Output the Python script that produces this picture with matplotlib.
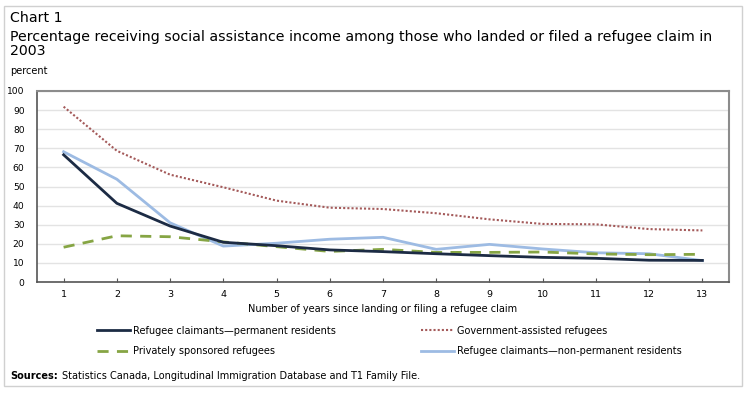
import matplotlib
matplotlib.use("Agg")
import matplotlib.pyplot as plt
from matplotlib.patches import Rectangle

years = list(range(1, 14))
claimants_pr = [66.6, 41.2, 29.3, 20.8, 19.0, 16.8, 15.9, 14.8, 13.8, 12.9, 12.4, 11.4, 11.3]
gov_assisted = [91.8, 68.7, 56.2, 49.6, 42.6, 38.9, 38.2, 36.0, 32.8, 30.4, 30.2, 27.7, 27.0]
private_sponsored = [18.2, 24.2, 23.7, 21.0, 18.5, 16.0, 17.1, 15.5, 15.5, 15.7, 14.7, 14.3, 14.5]
claimants_npr = [68.2, 53.8, 31.0, 18.8, 20.3, 22.4, 23.4, 17.1, 19.7, 17.3, 15.3, 14.8, 11.2]

series_labels = ["Refugee claimants\u2014permanent residents",
                 "Government-assisted refugees",
                 "Privately sponsored refugees",
                 "Refugee claimants\u2014non-permanent residents"]

plt.rcParams['font.family'] = ['DejaVu Sans']

W, H = 749, 397
fig = plt.figure(figsize=(W / 100, H / 100), dpi=100)

# outer frame
fig.patches.append(Rectangle((4 / W, 1 - 386 / H), 738 / W, 380 / H, transform=fig.transFigure,
                             fill=False, edgecolor='#d0d0d0', linewidth=1))

ax = fig.add_axes([37 / W, 1 - 282 / H, (729 - 37) / W, (282 - 91) / H])

l_npr, = ax.plot(years, claimants_npr, color='#9dbbe3', linewidth=2, zorder=3)
l_priv, = ax.plot(years, private_sponsored, color='#86a544', linewidth=2, linestyle=(0, (4, 3)), zorder=4)
l_gov, = ax.plot(years, gov_assisted, color='#a45a5a', linewidth=1.5, linestyle=(0, (1, 1)), zorder=4)
l_pr, = ax.plot(years, claimants_pr, color='#1c2b44', linewidth=2, zorder=5)

ax.set_xlim(0.5, 13.5)
ax.set_ylim(0, 100)
ax.set_xticks(years)
ax.set_yticks(range(0, 101, 10))
ax.tick_params(axis='x', direction='in', length=3, color='#555555', labelsize=6.8, pad=6)
ax.tick_params(axis='y', length=0, labelsize=6.6, pad=9)
ax.grid(axis='y', color='#e3e3e3', linewidth=1)
ax.set_axisbelow(True)
for s in ['top', 'right']:
    ax.spines[s].set_color('#8c8c8c')
    ax.spines[s].set_linewidth(1.5)
for s in ['left', 'bottom']:
    ax.spines[s].set_color('#555555')
    ax.spines[s].set_linewidth(1.2)

ax.set_xlabel("Number of years since landing or filing a refugee claim", fontsize=7, labelpad=3)

fig.text(10 / W, 1 - 18 / H, "Chart 1", fontsize=10.2, va='center', ha='left')
fig.text(10 / W, 1 - 44 / H,
         "Percentage receiving social assistance income among those who landed or filed a refugee claim in\n2003",
         fontsize=10.2, va='center', ha='left', linespacing=1.0)
fig.text(10 / W, 1 - 71 / H, "percent", fontsize=7, va='center', ha='left')

fig.legend([l_pr, l_priv, l_gov, l_npr],
           [series_labels[0], series_labels[2], series_labels[1], series_labels[3]],
           ncol=2, loc='upper left', bbox_to_anchor=(88.5 / W, 1 - 317 / H),
           frameon=False, fontsize=7, handlelength=3.4, handletextpad=0.3,
           columnspacing=8.7, labelspacing=1.1)

src_label = fig.text(10 / W, 1 - 376 / H, "Sources:", fontsize=7, fontweight='bold', va='center', ha='left')
renderer = fig.canvas.get_renderer()
bb = src_label.get_window_extent(renderer)
fig.text((bb.x1 + 4) / W, 1 - 376 / H, "Statistics Canada, Longitudinal Immigration Database and T1 Family File.",
         fontsize=7, va='center', ha='left')

fig.savefig("out.png", dpi=100)
